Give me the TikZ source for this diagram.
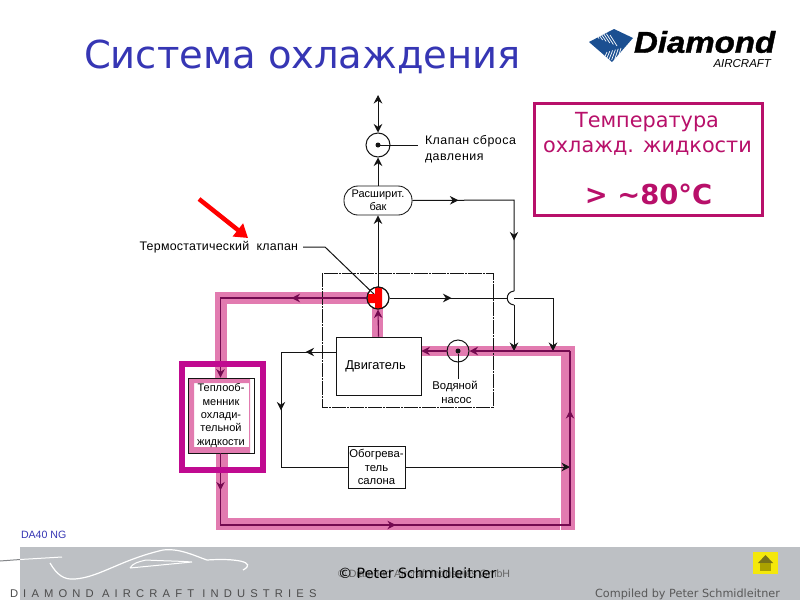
\documentclass[tikz,border=0pt]{standalone}
\usepackage{fontspec}
\usetikzlibrary{arrows.meta,decorations.markings}
\setmainfont{Liberation Sans}
\newfontfamily\verd{DejaVu Sans}
\newfontfamily\spaced[LetterSpace=46]{Liberation Sans}
\definecolor{titleblue}{HTML}{3636B4}
\definecolor{pinkflow}{HTML}{E27BB0}
\definecolor{darkflow}{HTML}{740A50}
\definecolor{boxmag}{HTML}{C00A90}
\definecolor{tempcol}{HTML}{B8106A}
\definecolor{band}{HTML}{BDC0C4}
\definecolor{logoblue}{HTML}{1B4F91}
\definecolor{wirecol}{HTML}{141414}
\tikzset{
  x=1pt,y=-1pt,
  tipa/.style={-{Stealth[length=8.5pt,width=8.5pt]}},
  wire/.style={draw=wirecol,line width=1pt},
  flow/.style={draw=darkflow,line width=1.1pt},
  pinkstrip/.style={fill=pinkflow,draw=none},
  arrat/.style={postaction={decorate,decoration={markings,mark=at position #1 with {\arrow{Stealth[length=8.5pt,width=8.5pt]}}}}},
  valvenode/.style={circle,draw=wirecol,line width=1pt,minimum size=#1,inner sep=0pt,fill=white},
  plain/.style={inner sep=0pt,outer sep=0pt,align=center,font=\fontsize{#1}{#1}\selectfont},
  blockbox/.style={draw=wirecol,line width=0.85pt,inner sep=0pt,align=center},
  dotnode/.style={circle,fill=wirecol,minimum size=5pt,inner sep=0pt}
}
\begin{document}
\begin{tikzpicture}
\useasboundingbox (0,0) rectangle (800,600);
\fill[white] (0,0) rectangle (800,600);

% footer band
\fill[band] (20,547) rectangle (800,600);
\node[plain=10.6,text=titleblue,anchor=west] (model) at (21,535) {DA40 NG};
\draw[white,line width=1.2pt] (50,563) .. controls (57,575) and (64,580) .. (75,579) .. controls (100,577) and (120,560) .. (163,550) .. controls (180,548) and (195,556) .. (207,560) .. controls (235,558) and (258,562) .. (243,570);
\draw[white,line width=1pt] (20,559.5) -- (62,557);
\draw[band!70!black,line width=1pt] (0,561) -- (20,559.5);
\draw[white,line width=1pt] (130,568) .. controls (133,563) and (138,562) .. (146,560) .. controls (165,561) and (180,561) .. (192,562) -- (130,568);
\node[plain=11.2,font=\spaced\fontsize{11.2}{11.2}\selectfont,text=black!70,anchor=west] (maker) at (10,594) {DIAMOND AIRCRAFT INDUSTRIES};
\node[plain=10.6,text=black!60,anchor=west] (copyunder) at (338,574) {© Diamond Aircraft Industries GmbH};
\node[plain=14,font=\verd\fontsize{14.2}{15}\selectfont,text=black,anchor=west] (copy) at (338,573) {© Peter Schmidleitner};
\node[plain=11,font=\verd\fontsize{11.25}{12}\selectfont,text=black!65,anchor=east] (compiled) at (780,594.5) {Compiled by Peter Schmidleitner};
\fill[yellow!95!black] (753,552) rectangle (778,574);
\fill[olive!80!black] (765.5,555) -- (773,563) -- (758,563) -- cycle;
\fill[olive!75!yellow] (760,563) rectangle (771,571);

% title and logo
\node[plain=39,font=\verd\fontsize{38.5}{40}\selectfont,text=titleblue,anchor=west] (title) at (84,57) {Система охлаждения};
\fill[logoblue] (589,42) -- (614,29) -- (633,38) -- (612,62) -- cycle;
\foreach \k in {0,1,2,3,4,5}{
  \draw[white,line width=0.7pt] (592+3.6*\k,29+1.2*\k) -- (599+3.6*\k,38.5+1.5*\k);
  \draw[white,line width=0.7pt] (602+3.2*\k,63-1*\k) -- (607+2.8*\k,52-0.8*\k);
}
\node[plain=30,font=\fontsize{30}{30}\selectfont\bfseries\itshape\addfontfeature{FakeBold=1.2},xscale=1.1,text=black,anchor=west] (logoa) at (634,42) {Diamond};
\node[plain=11,font=\fontsize{11.5}{12}\selectfont\itshape,text=black,anchor=east] (logob) at (771,63.5) {AIRCRAFT};

% temperature box
\draw[tempcol,line width=3pt] (534.5,103.5) rectangle (762.5,215.5);
\node[plain=20,font=\verd\fontsize{20.8}{21}\selectfont,text=tempcol] (temp1) at (647,122) {Температура};
\node[plain=20,font=\verd\fontsize{20.8}{21}\selectfont,text=tempcol] (temp2) at (647.5,148) {охлажд. жидкости};
\node[plain=26,font=\verd\fontsize{27.4}{28}\selectfont\bfseries,text=tempcol] (temp3) at (648.5,194) {> \char"007E 80°C};

% pink coolant path
\fill[pinkstrip] (215,293) rectangle (227,378);
\fill[pinkstrip] (215,292) rectangle (368,304);
\fill[pinkstrip] (372,308) rectangle (383,337);
\fill[pinkstrip] (421,346) rectangle (575,356);
\fill[pinkstrip] (561,346) rectangle (575,530);
\fill[pinkstrip] (216,453) rectangle (228,530);
\fill[pinkstrip] (216,518) rectangle (560,530);
\fill[pinkstrip,even odd rule] (188,378) rectangle (250,453) (194,383) rectangle (249,447);

% dash-dot enclosure
\draw[wirecol,line width=1pt,dash pattern=on 14pt off 1pt on 2pt off 1pt] (322,273) rectangle (493,407);

% nodes
\node[valvenode=24pt] (relief) at (378,145) {};
\node[dotnode] (reliefdot) at (378,145) {};
\node[blockbox,rounded corners=14pt,minimum width=68pt,minimum height=29pt,fill=white,font=\fontsize{11}{13}\selectfont] (tank) at (378,200.5) {Расширит.\\бак};
\node[valvenode=22pt] (thermo) at (378,298) {};
\node[blockbox,minimum width=85pt,minimum height=58pt,font=\fontsize{12.8}{14}\selectfont] (engine) at (378.5,366) {\hspace*{-6pt}Двигатель};
\node[valvenode=22pt,fill=none] (pump) at (458,351) {};
\node[dotnode] (pumpdot) at (458,351) {};
\node[blockbox,minimum width=66pt,minimum height=75pt,font=\fontsize{11}{13.4}\selectfont] (cooler) at (221,415.5) {Теплооб-\\менник\\охлади-\\тельной\\жидкости};
\node[blockbox,minimum width=57pt,minimum height=42pt,font=\fontsize{11.3}{13.5}\selectfont] (heater) at (376.5,467) {Обогрева-\\тель\\салона};

% labels
\node[plain=12,font=\fontsize{12.4}{16}\selectfont\addfontfeature{LetterSpace=4},align=left,anchor=west] (relieflabel) at (425,149) {Клапан сброса\\давления};
\node[plain=12,font=\fontsize{12.4}{12}\selectfont\addfontfeature{LetterSpace=2},anchor=east] (thermolabel) at (298,247) {Термостатический\ \ клапан};
\node[plain=11,font=\fontsize{11.3}{13.4}\selectfont] (pumplabel) at (455,392.5) {Водяной\\\hspace*{3pt}насос};

% helper points
\coordinate (top) at (378,95);
\coordinate (leader) at (418,145);
\coordinate (thermoA) at (325,247);
\coordinate (thermoB) at (303,247);
\coordinate (pumpleg) at (458,379);
\coordinate (tankR) at (514,200);
\coordinate (hopU) at (514,291);
\coordinate (hopD) at (514,305);
\coordinate (hopC1) at (505,292);
\coordinate (hopC2) at (505,304);
\coordinate (hopL) at (507,298);
\coordinate (hopR) at (514,298);
\coordinate (feedA) at (514,351);
\coordinate (feedB) at (553,351);
\coordinate (feedBt) at (553,298);
\coordinate (engL) at (281,352);
\coordinate (engLb) at (281,467);
\coordinate (heatEnd) at (570,467);
\coordinate (cornerTL) at (220.5,298);
\coordinate (cornerBL) at (220.5,525);
\coordinate (cornerBR) at (570,525);
\coordinate (cornerTR) at (570,351);

% black wires
\draw[wire,{Stealth[length=8.5pt,width=8.5pt]}-{Stealth[length=8.5pt,width=8.5pt]}] (top) -- (relief.north);
\draw[wire,tipa] (tank.north) -- (relief.south);
\draw[wire] (relief.center) -- (leader);
\draw[wire,tipa] (thermo.north) -- (tank.south);
\draw[wire] (thermoB) -- (thermoA) -- (thermo.center);
\draw[wire,arrat=46pt,arrat=142pt] (tank.east) -- (tankR) -- (hopU);
\draw[wire] (hopU) .. controls (hopC1) and (hopC2) .. (hopD);
\draw[wire,tipa] (hopD) -- (feedA);
\draw[wire,arrat=62pt] (thermo.east) -- (hopL);
\draw[wire,tipa] (hopR) -- (feedBt) -- (feedB);
\draw[wire,arrat=30pt,arrat=113pt] (engine.west |- engL) -- (engL) -- (engLb) -- (heater.west);
\draw[wire,tipa] (heater.east) -- (heatEnd);
\draw[wire] (pumpdot) -- (pumpleg);

% coolant lines
\draw[flow,arrat=75pt,tipa] (thermo.west) -- (cornerTL) -- (cooler.north -| cornerTL);
\draw[flow,arrat=37pt,arrat=247pt,arrat=536pt] (cooler.south -| cornerBL) -- (cornerBL) -- (cornerBR) -- (cornerTR);
\draw[flow,tipa] (cornerTR) -- (pump.east);
\draw[flow,tipa] (pump.west) -- (engine.east |- pump);
\draw[flow,tipa] (engine.north) -- (thermo.south);

% thermostat valve insert
\fill[red] (375,287) -- (382,287.5) -- (382,308.5) -- (375,309) -- (375,303) -- (368,303) -- (368,294) -- (375,294) -- cycle;
\draw[wirecol,line width=1pt] (thermo.center) circle[radius=11pt];

% pointer
\coordinate (pointerA) at (199,199);
\coordinate (pointerB) at (248,238);
\draw[red,line width=4.5pt,-{Triangle[length=13pt,width=16pt]}] (pointerA) -- (pointerB);

% cooler highlight
\draw[boxmag,line width=5.5pt] (182,364) rectangle (263,470);
\end{tikzpicture}
\end{document}
